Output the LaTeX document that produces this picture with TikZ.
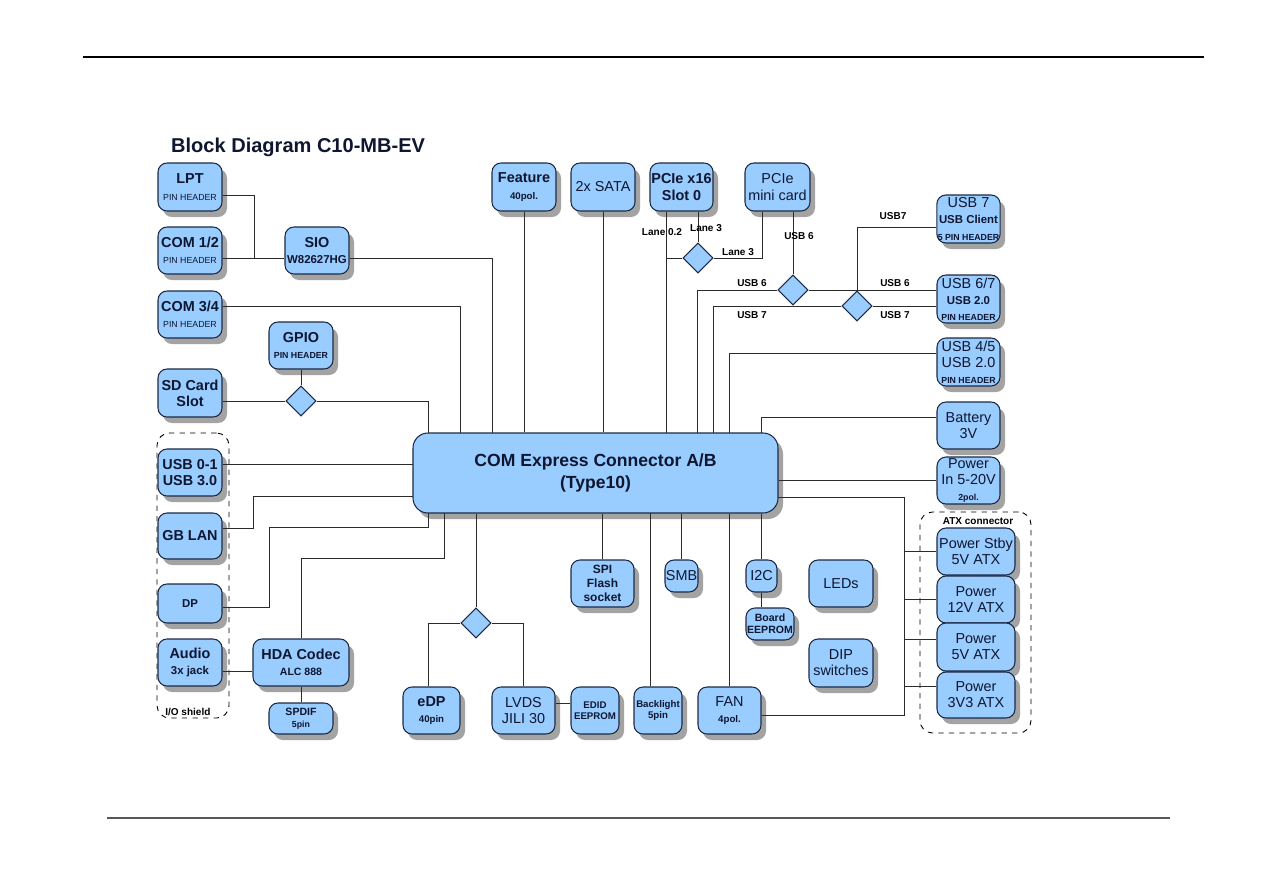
\documentclass[tikz,border=0pt]{standalone}
\usepackage{fontspec}
\setmainfont{Liberation Sans}
\usetikzlibrary{calc,positioning,shapes.geometric,shadows}
\definecolor{BoxBlue}{HTML}{99CCFF}
\definecolor{EdgeNavy}{HTML}{1C2A44}
\definecolor{Ink}{HTML}{0E1630}
\definecolor{WireGray}{HTML}{2B2B2B}
\newcommand{\mainf}{\fontsize{8.2}{9.2}\selectfont}
\newcommand{\midf}{\fontsize{6.5}{7.5}\selectfont}
\newcommand{\subf}{\fontsize{5}{6}\selectfont}
\newcommand{\lblf}{\fontsize{5.7}{6.5}\selectfont\bfseries}
\tikzset{
  blk/.style={draw=EdgeNavy, line width=0.6pt, fill=BoxBlue, rounded corners=1.8mm,
    align=center, text=Ink, inner sep=0.5pt,
    drop shadow={shadow xshift=1mm, shadow yshift=-1.2mm, fill=black!45, opacity=0.8}},
  box/.style 2 args={blk, minimum width=#1*0.2mm, minimum height=#2*0.2mm},
  dia/.style={diamond, draw=EdgeNavy, line width=0.6pt, fill=BoxBlue, inner sep=0pt,
    minimum width=6mm, minimum height=6mm},
  wire/.style={draw=WireGray, line width=0.55pt},
  lbl/.style={font=\lblf, text=black, inner sep=0pt},
  grp/.style={draw=black, dashed, line width=0.5pt, rounded corners=2.5mm},
}

\begin{document}
\begin{tikzpicture}[x=0.2mm, y=-0.2mm, font=\mainf, text=Ink]
  \useasboundingbox (0,0) rectangle (1263,893);

  % Page rules and title.
  \draw[line width=0.8pt] (83,57) -- (1204,57);
  \draw[black!65, line width=0.6pt] (107,818) -- (1170,818);
  \node[anchor=west, font=\fontsize{11.4}{13}\selectfont\bfseries] (title) at (165,147)
    {Block Diagram C10-MB-EV};

  % Dashed groups.
  \node[grp, minimum width=72*0.2mm, minimum height=285*0.2mm] (ioshield) at (193,575.5) {};
  \node[lbl, anchor=west] (iolbl) at (165,712) {I/O shield};
  \node[grp, minimum width=111*0.2mm, minimum height=221*0.2mm] (atx) at (975.5,622.5) {};
  \node[lbl] (atxlbl) at (978,521) {ATX connector};

  % Left column.
  \node[box={64}{48}, font=\mainf\bfseries] (lpt) at (190,187) {LPT\\{\subf\mdseries PIN HEADER}};
  \node[box={64}{47}, font=\mainf\bfseries] (com12) at (190,250.5) {COM 1/2\\{\subf\mdseries PIN HEADER}};
  \node[box={64}{47}, font=\mainf\bfseries] (com34) at (190,314.5) {COM 3/4\\{\subf\mdseries PIN HEADER}};
  \node[box={64}{47}, font=\mainf\bfseries] (sio) at (317,250.5) {SIO\\{\midf W82627HG}};
  \node[box={64}{47}, font=\mainf\bfseries] (gpio) at (301,345.5) {GPIO\\{\subf PIN HEADER}};
  \node[box={64}{48}, font=\mainf\bfseries] (sdcard) at (190,393) {SD Card\\Slot};
  \node[box={64}{47}, font=\mainf\bfseries] (usb01) at (190,472.5) {USB 0-1\\USB 3.0};
  \node[box={64}{46}, font=\mainf\bfseries] (gblan) at (190,536) {GB LAN};
  \node[box={64}{39}, font=\midf\bfseries] (dp) at (190,603.5) {DP};
  \node[box={64}{47}, font=\mainf\bfseries] (audio) at (190,662.5) {Audio\\{\midf 3x jack}};
  \node[box={96}{47}, font=\mainf\bfseries] (hda) at (301,662.5) {HDA Codec\\{\fontsize{6}{7}\selectfont ALC 888}};
  \node[box={64}{31}, font=\fontsize{6}{7}\selectfont\bfseries] (spdif) at (301,718.5) {SPDIF\\{\subf 5pin}};

  % Top row.
  \node[box={64}{48}, font=\mainf\bfseries] (feature) at (524,187) {Feature\\{\fontsize{5.5}{6}\selectfont 40pol.}};
  \node[box={64}{48}] (sata) at (603,187) {2x SATA};
  \node[box={63}{48}, font=\mainf\bfseries] (pcie) at (681.5,187) {PCIe x16\\Slot 0};
  \node[box={65}{48}] (minicard) at (777.5,187) {PCIe\\mini card};

  % Right column.
  \node[box={63}{48}] (usb7) at (968.5,219) {USB 7\\{\midf\bfseries USB Client}\\{\subf\bfseries 5 PIN HEADER}};
  \node[box={63}{48}] (usb67) at (968.5,299) {USB 6/7\\{\midf\bfseries USB 2.0}\\{\subf\bfseries PIN HEADER}};
  \node[box={63}{48}] (usb45) at (968.5,362) {USB 4/5\\USB 2.0\\{\subf\bfseries PIN HEADER}};
  \node[box={63}{47}] (battery) at (968.5,425.5) {Battery\\3V};
  \node[box={63}{47}] (powerin) at (968.5,480.5) {Power\\In 5-20V\\{\subf\bfseries 2pol.}};
  \node[box={78}{47}] (stby) at (976,551.5) {Power Stby\\5V ATX};
  \node[box={78}{47}] (p12) at (976,599.5) {Power\\12V ATX};
  \node[box={78}{48}] (p5) at (976,647) {Power\\5V ATX};
  \node[box={78}{46}] (p3v3) at (976,695) {Power\\3V3 ATX};
  \node[box={64}{47}] (leds) at (841,583.5) {LEDs};
  \node[box={64}{48}] (dip) at (841,663) {DIP\\switches};

  % The connector in the middle.
  \node[blk, rounded corners=3mm, minimum width=365*0.2mm, minimum height=80*0.2mm,
    font=\fontsize{10}{13}\selectfont\bfseries] (com) at (595.5,473)
    {COM Express Connector A/B\\(Type10)};

  % Bottom row.
  \node[box={63}{47}, font=\fontsize{6.8}{8}\selectfont\bfseries] (spi) at (602.5,583.5) {SPI\\Flash\\socket};
  \node[box={31}{32}] (smb) at (681.5,576) {SMB};
  \node[box={31}{32}] (i2c) at (761.5,576) {I2C};
  \node[box={48}{32}, font=\fontsize{6}{7}\selectfont\bfseries] (boardeep) at (770,624) {Board\\EEPROM};
  \node[box={57}{47}, font=\mainf\bfseries] (edp) at (431.5,710.5) {eDP\\{\fontsize{5.5}{6}\selectfont 40pin}};
  \node[box={63}{47}] (lvds) at (523.5,710.5) {LVDS\\JILI 30};
  \node[box={48}{47}, font=\fontsize{5.5}{6.5}\selectfont\bfseries] (edid) at (595,710.5) {EDID\\EEPROM};
  \node[box={48}{47}, font=\fontsize{5.5}{6.5}\selectfont\bfseries] (backlight) at (658,710.5) {Backlight\\5pin};
  \node[box={63}{47}] (fan) at (729.5,710.5) {FAN\\{\fontsize{5.5}{6}\selectfont\bfseries 4pol.}};

  % Switches.
  \node[dia] (gpiodia) at (301,401) {};
  \node[dia] (lanedia) at (698,258) {};
  \node[dia] (usbdiaA) at (793,290) {};
  \node[dia] (usbdiaB) at (857,306) {};
  \node[dia] (viddia) at (476,623) {};

  % Where wires meet the connector, and bends.
  \coordinate (tSD) at (428,433);
  \coordinate (t34) at (460,433);
  \coordinate (tSIO) at (492,433);
  \coordinate (tL02) at (666,433);
  \coordinate (tU6) at (697,433);
  \coordinate (tU7) at (713,433);
  \coordinate (tU45) at (729,433);
  \coordinate (tBat) at (761,433);
  \coordinate (lUSB) at (413,464);
  \coordinate (lLAN) at (413,496);
  \coordinate (bDP) at (428,513);
  \coordinate (bHDA) at (444,513);
  \coordinate (bBL) at (650,513);
  \coordinate (rATX) at (778,497);
  \coordinate (kLPT) at (254,258);
  \coordinate (kLAN) at (253,496);
  \coordinate (kDP) at (269,527);
  \coordinate (kHDA) at (444,558);
  \coordinate (busB) at (904,715);

  % Wires above the connector.
  \draw[wire] ($(lpt.east)+(0,8)$) -| (kLPT);
  \draw[wire] ($(com12.east)+(0,7.5)$) -- ($(sio.west)+(0,7.5)$);
  \draw[wire] ($(sio.east)+(0,7.5)$) -| (tSIO);
  \draw[wire] ($(com34.east)+(0,-8.5)$) -| (t34);
  \draw[wire] (gpio.south) -- (gpiodia.north);
  \draw[wire] (gpiodia.west) -- (gpiodia.west -| sdcard.east);
  \draw[wire] (gpiodia.east) -| (tSD);
  \draw[wire] (feature.south) -- (feature.south |- com.north);
  \draw[wire] (sata.south) -- (sata.south |- com.north);
  \draw[wire] (tL02 |- pcie.south) -- (tL02);
  \draw[wire] (lanedia.north) -- (lanedia.north |- pcie.south);
  \draw[wire] (lanedia.west) -- (lanedia.west -| tL02);
  \draw[wire] (lanedia.east) -| ($(minicard.south)+(-15.5,0)$);
  \draw[wire] (usbdiaA.north) -- (usbdiaA.north |- minicard.south);
  \draw[wire] (usbdiaA.west) -| (tU6);
  \draw[wire] (usbdiaA.east) -- (usbdiaA.east -| usb67.west);
  \draw[wire] (usbdiaB.north) |- ($(usb7.west)+(0,8)$);
  \draw[wire] (usbdiaB.east) -- (usbdiaB.east -| usb67.west);
  \draw[wire] (usbdiaB.west) -| (tU7);
  \draw[wire] ($(usb45.west)+(0,-9)$) -| (tU45);
  \draw[wire] ($(battery.west)+(0,-8.5)$) -| (tBat);

  % Wires to the right.
  \draw[wire] (powerin.west) -- (powerin.west -| com.east);
  \draw[wire] (rATX) -| (busB) -- (busB -| fan.east);
  \draw[wire] (stby.west) -- (stby.west -| busB);
  \draw[wire] (p12.west) -- (p12.west -| busB);
  \draw[wire] ($(p5.west)+(0,-8)$) -- ($(p5.west -| busB)+(0,-8)$);
  \draw[wire] ($(p3v3.west)+(0,-9)$) -- ($(p3v3.west -| busB)+(0,-9)$);

  % Wires to the left and below.
  \draw[wire] (lUSB -| usb01.east) -- (lUSB);
  \draw[wire] ($(gblan.east)+(0,-8)$) -| (kLAN) -- (lLAN);
  \draw[wire] ($(dp.east)+(0,3.5)$) -| (kDP) -| (bDP);
  \draw[wire] ($(audio.east)+(0,8.5)$) -- ($(hda.west)+(0,8.5)$);
  \draw[wire] (hda.south) -- (spdif.north);
  \draw[wire] (hda.north) -- (hda.north |- kHDA) -| (bHDA);
  \draw[wire] (viddia.north) -- (viddia.north |- com.south);
  \draw[wire] (viddia.west) -| ($(edp.north)+(-3.5,0)$);
  \draw[wire] (viddia.east) -| (lvds.north);
  \draw[wire] ($(lvds.east)+(0,-7.5)$) -- ($(edid.west)+(0,-7.5)$);
  \draw[wire] (spi.north) -- (spi.north |- com.south);
  \draw[wire] (bBL |- backlight.north) -- (bBL);
  \draw[wire] (smb.north) -- (smb.north |- com.south);
  \draw[wire] (fan.north) -- (fan.north |- com.south);
  \draw[wire] (i2c.north) -- (i2c.north |- com.south);
  \draw[wire] (i2c.south) -- (i2c.south |- boardeep.north);

  % Lane and port labels.
  \node[lbl] (l02) at (662,232) {Lane 0.2};
  \node[lbl] (l3a) at (706,228) {Lane 3};
  \node[lbl] (l3b) at (738,252) {Lane 3};
  \node[lbl] (u6a) at (799,236) {USB 6};
  \node[lbl] (u6b) at (752,283) {USB 6};
  \node[lbl] (u7a) at (752,315) {USB 7};
  \node[lbl] (u7c) at (893,216) {USB7};
  \node[lbl] (u6c) at (895,283) {USB 6};
  \node[lbl] (u7b) at (895,315) {USB 7};
\end{tikzpicture}
\end{document}
